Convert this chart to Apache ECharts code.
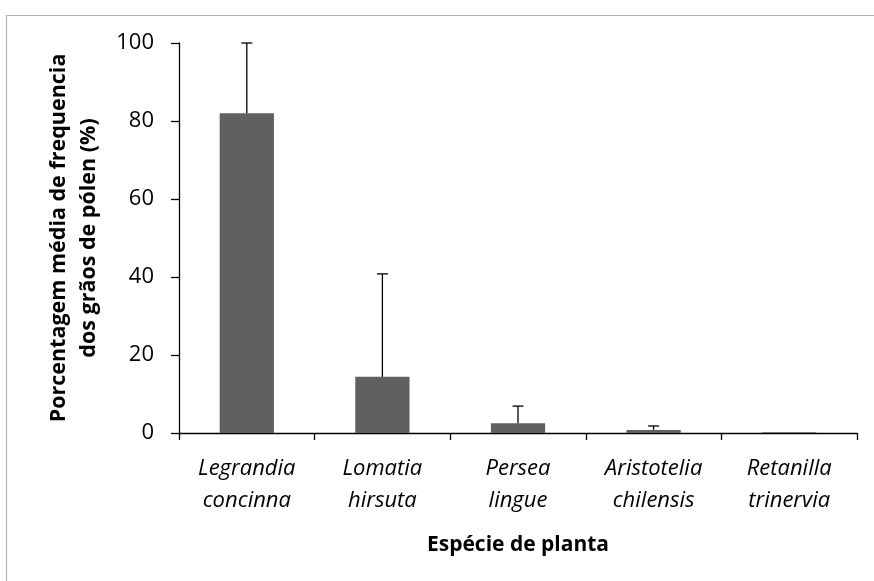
<!DOCTYPE html>
<html>
<head>
<meta charset="utf-8">
<script src="https://cdn.jsdelivr.net/npm/echarts@6/dist/echarts.min.js"></script>
<style>
  html, body { margin: 0; padding: 0; background: #fff; }
  #chart { width: 874px; height: 581px; }
</style>
</head>
<body>
<div id="chart"></div>
<script>
// Plant species (x axis)
const species = [
  'Legrandia\nconcinna',
  'Lomatia\nhirsuta',
  'Persea\nlingue',
  'Aristotelia\nchilensis',
  'Retanilla\ntrinervia'
];
// Mean pollen grain frequency (%)
const meanFreq = [82, 14.4, 2.5, 0.8, 0.2];
// Upper error (standard deviation, %)
const upperErr = [18, 26.4, 4.4, 1.0, 0];
// Y axis ticks
const yTicks = [0, 20, 40, 60, 80, 100];

const FONT = '"Open Sans", Lato, sans-serif';

const errData = meanFreq.map((m, i) => [i, m, m + upperErr[i]]);

const chart = echarts.init(document.getElementById('chart'), null, { renderer: 'canvas' });

chart.setOption({
  backgroundColor: '#ffffff',
  animation: false,
  graphic: [{
    type: 'rect',
    left: 4, top: 13,
    shape: { width: 1000, height: 1000 },
    style: { fill: 'none', stroke: '#b4b4b4', lineWidth: 1.2 },
    silent: true
  }],
  grid: { left: 179, right: 17, top: 43, bottom: 148 },
  xAxis: {
    type: 'category',
    data: species,
    boundaryGap: true,
    axisLine: { lineStyle: { color: '#000', width: 1.3 } },
    axisTick: { show: true, length: 7, lineStyle: { color: '#000', width: 1.3 } },
    axisLabel: {
      interval: 0, margin: 20,
      fontFamily: FONT, fontStyle: 'italic', fontSize: 22,
      color: '#000', lineHeight: 32
    },
    name: 'Espécie de planta',
    nameLocation: 'middle',
    nameGap: 102,
    nameTextStyle: { fontFamily: FONT, fontWeight: 'bold', fontSize: 21, color: '#000' }
  },
  yAxis: {
    type: 'value',
    min: yTicks[0], max: yTicks[yTicks.length - 1], interval: 20,
    splitLine: { show: false },
    axisLine: { show: true, lineStyle: { color: '#000', width: 1.3 } },
    axisTick: { show: true, length: 8, inside: false, lineStyle: { color: '#000', width: 1.3 } },
    axisLabel: { margin: 25, fontFamily: FONT, fontSize: 22, color: '#000' },
    name: 'Porcentagem média de frequencia\ndos grãos de pólen (%)',
    nameLocation: 'middle',
    nameGap: 75,
    nameRotate: 90,
    nameTextStyle: { fontFamily: FONT, fontWeight: 'bold', fontSize: 21.5, color: '#000', lineHeight: 30, align: 'center' }
  },
  series: [
    {
      type: 'bar',
      data: meanFreq,
      barWidth: '40%',
      itemStyle: { color: '#606060' },
      z: 2
    },
    {
      type: 'custom',
      data: errData,
      z: 3,
      renderItem: function (params, api) {
        const i = api.value(0);
        const lo = api.coord([i, api.value(1)]);
        const hi = api.coord([i, api.value(2)]);
        if (api.value(2) <= api.value(1)) return null;
        const half = 5.5;
        const style = { stroke: '#000', lineWidth: 1.3 };
        return {
          type: 'group',
          children: [
            { type: 'line', shape: { x1: lo[0], y1: lo[1], x2: hi[0], y2: hi[1] }, style: style },
            { type: 'line', shape: { x1: hi[0] - half, y1: hi[1], x2: hi[0] + half, y2: hi[1] }, style: style }
          ]
        };
      }
    }
  ]
});
</script>
</body>
</html>
